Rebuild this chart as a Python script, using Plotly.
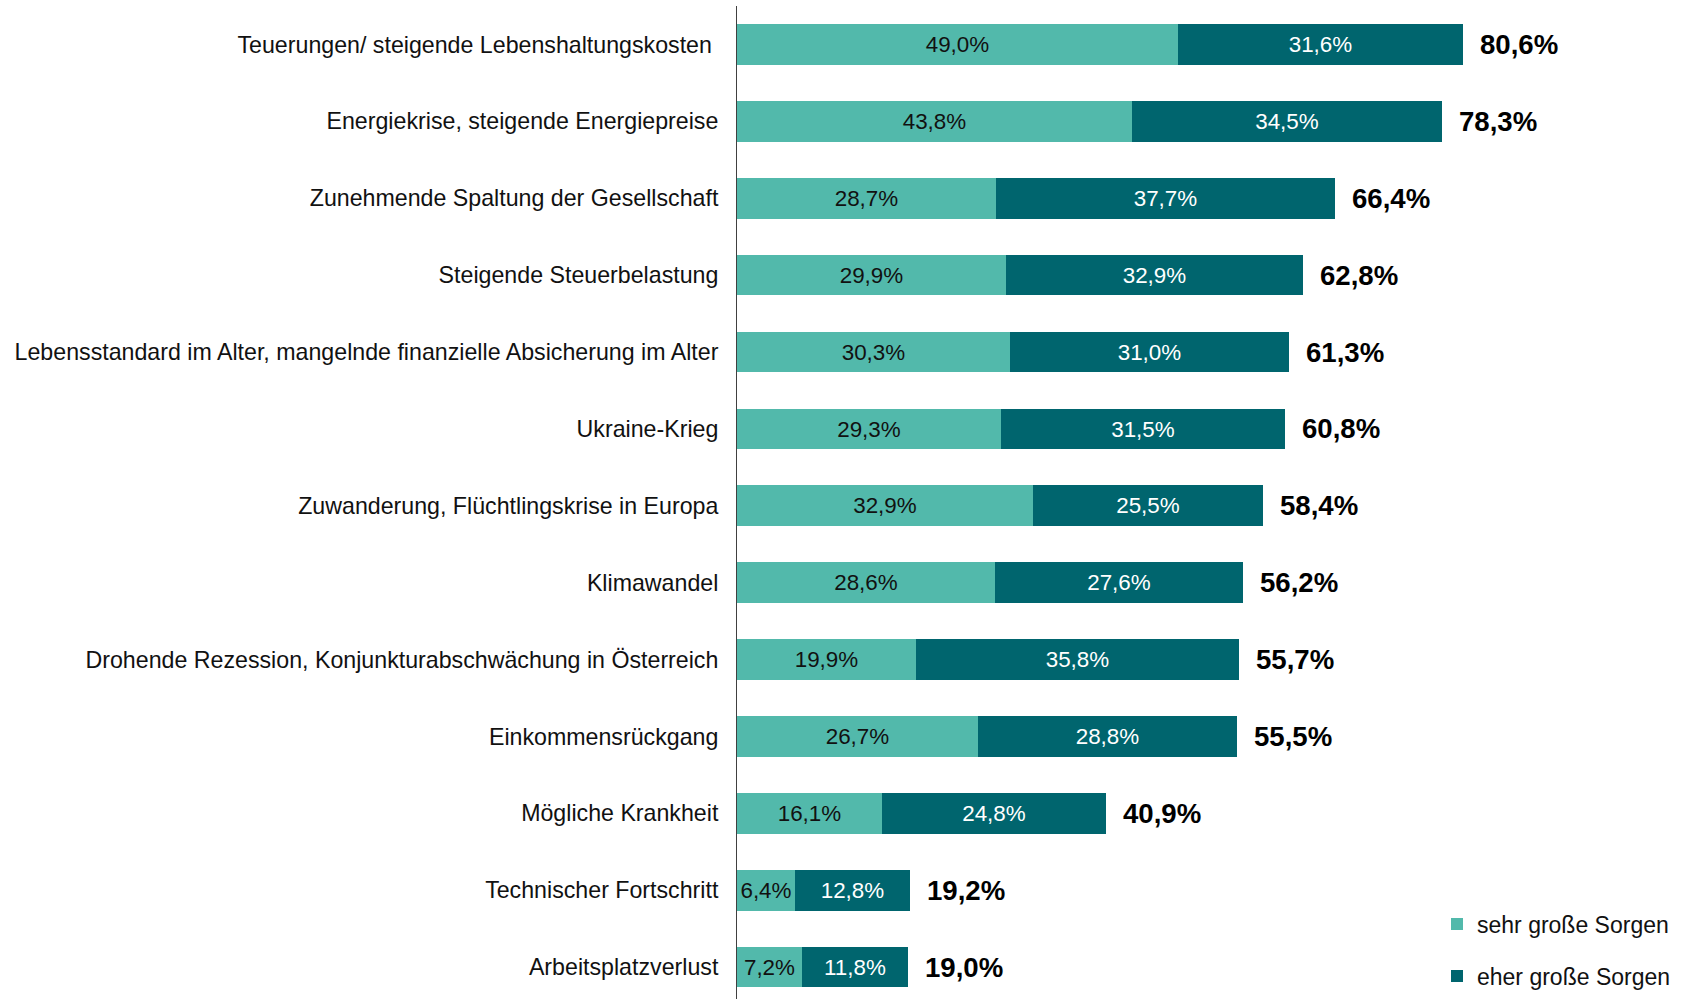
import plotly.graph_objects as go

categories = [
    "Teuerungen/ steigende Lebenshaltungskosten ",
    "Energiekrise, steigende Energiepreise",
    "Zunehmende Spaltung der Gesellschaft",
    "Steigende Steuerbelastung",
    "Lebensstandard im Alter, mangelnde finanzielle Absicherung im Alter",
    "Ukraine-Krieg",
    "Zuwanderung, Flüchtlingskrise in Europa",
    "Klimawandel",
    "Drohende Rezession, Konjunkturabschwächung in Österreich",
    "Einkommensrückgang",
    "Mögliche Krankheit",
    "Technischer Fortschritt",
    "Arbeitsplatzverlust",
]
sehr_gross = [49.0, 43.8, 28.7, 29.9, 30.3, 29.3, 32.9, 28.6, 19.9, 26.7, 16.1, 6.4, 7.2]
eher_gross = [31.6, 34.5, 37.7, 32.9, 31.0, 31.5, 25.5, 27.6, 35.8, 28.8, 24.8, 12.8, 11.8]
totals = [80.6, 78.3, 66.4, 62.8, 61.3, 60.8, 58.4, 56.2, 55.7, 55.5, 40.9, 19.2, 19.0]
series_names = ["sehr große Sorgen", "eher große Sorgen"]

LIGHT = "#52B9AB"
DARK = "#00656E"
FONT = "Liberation Sans, Arial, sans-serif"

W, H = 1684, 999
LEFT = 737
TOP = 5.6


def fmt(v):
    return f"{v:.1f}".replace(".", ",") + "%"


ypos = list(range(len(categories)))

fig = go.Figure()
fig.add_trace(go.Bar(
    y=ypos, x=sehr_gross, orientation="h", name=series_names[0],
    marker=dict(color=LIGHT, line=dict(width=0)), width=0.53,
    text=[fmt(v) for v in sehr_gross], textposition="inside",
    insidetextanchor="middle", constraintext="none",
    textfont=dict(family=FONT, size=22.4, color="#111111"),
    legend="legend", hoverinfo="skip",
))
fig.add_trace(go.Bar(
    y=ypos, x=eher_gross, orientation="h", name=series_names[1],
    marker=dict(color=DARK, line=dict(width=0)), width=0.53,
    text=[fmt(v) for v in eher_gross], textposition="inside",
    insidetextanchor="middle", constraintext="none",
    textfont=dict(family=FONT, size=22.4, color="#ffffff"),
    legend="legend2", hoverinfo="skip",
))

for i, t in enumerate(totals):
    fig.add_annotation(
        x=t, y=i, xref="x", yref="y", text="<b>" + fmt(t) + "</b>",
        showarrow=False, xanchor="left", xshift=15,
        font=dict(family=FONT, size=27.6, color="#000000"),
    )

unit = 76.92
lower = (H - TOP) / unit - 0.5

leg_common = dict(
    xref="container", yref="container", xanchor="left", yanchor="middle",
    font=dict(family=FONT, size=23, color="#111111"),
    bgcolor="rgba(0,0,0,0)", borderwidth=0,
)

fig.update_layout(
    width=W, height=H,
    margin=dict(l=LEFT, r=0, t=TOP, b=0, autoexpand=False),
    barmode="stack",
    bargap=0,
    plot_bgcolor="white", paper_bgcolor="white",
    font=dict(family=FONT, size=23, color="#111111"),
    showlegend=True,
    legend=dict(x=1437 / W, y=1 - 924 / H, **leg_common),
    legend2=dict(x=1437 / W, y=1 - 976 / H, **leg_common),
    xaxis=dict(
        range=[0, (W - LEFT) / 9.01], showticklabels=False, showgrid=False,
        zeroline=False, showline=False, fixedrange=True,
    ),
    yaxis=dict(
        range=[lower, -0.5], tickmode="array", tickvals=ypos, ticktext=categories,
        showgrid=False, zeroline=False, showline=True, linecolor="#404040",
        linewidth=1, ticks="", ticklabelstandoff=13, fixedrange=True,
        tickfont=dict(family=FONT, size=23.2, color="#111111"),
    ),
)

fig.write_html(
    "out.html",
    config={"displayModeBar": False},
    post_script="document.body.style.margin='0';document.body.style.overflow='hidden';",
)
